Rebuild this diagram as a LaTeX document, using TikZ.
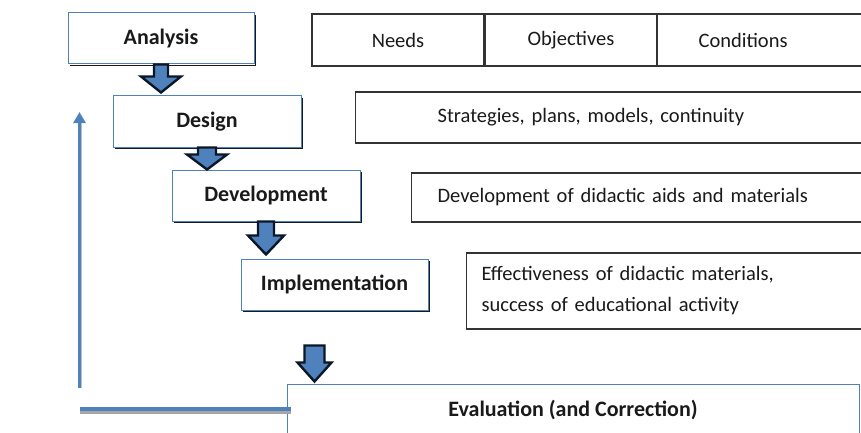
\documentclass[tikz,border=0pt]{standalone}
\usepackage{fontspec}
\setmainfont{Carlito}
\usetikzlibrary{calc,arrows.meta}
\definecolor{wblue}{HTML}{4F81BD}
\definecolor{wtext}{HTML}{1A1A1A}
\definecolor{rline}{HTML}{333333}
\definecolor{navy}{HTML}{0B1626}
\newcommand\blockarr[5]{%
  \draw[barrow] ($#1+(-#4,0)$) -- ++(2*#4,0) -- ++(0,#2) -- ++(#5-#4,0)
     -- ++(-#5,#3) -- ++(-#5,-#3) -- ++(#5-#4,0) -- cycle;}
\newcommand\boxshadow[1]{%
  \draw[shadowline] ($(#1.north east)+(1.3,2.5)$) |- ($(#1.south west)+(2.5,1.3)$);}
\tikzset{
  x=1pt, y=-1pt,
  stagebox/.style={draw=wblue, line width=1pt, fill=white, text=wtext,
    font=\fontsize{22}{26}\selectfont\bfseries, minimum height=51, inner sep=0pt},
  shadowline/.style={draw=black!90, line width=1.3pt},
  cellbox/.style={draw=rline, line width=1.2pt, fill=white, text=wtext,
    font=\fontsize{20.5}{24}\selectfont, minimum height=52, inner sep=0pt},
  infobox/.style={draw=rline, line width=1.2pt, fill=white, text=wtext,
    font=\fontsize{20.5}{31}\selectfont, anchor=west, align=left, inner ysep=0pt},
  barrow/.style={fill=wblue, draw=navy, line width=2.4pt, line join=miter},
  feedback/.style={draw=wblue, line width=2.5pt},
}
\begin{document}
\begin{tikzpicture}
\useasboundingbox (0,0) rectangle (861,433);
% stage boxes
\node[stagebox, minimum width=186] (analysis) at (161,38.5) {Analysis};
\node[stagebox, minimum width=188] (design) at (207,121.5) {Design};
\node[stagebox, minimum width=188] (development) at (266,195.5) {Development};
\node[stagebox, minimum width=187] (implementation) at (334.5,284.5) {Implementation};
\boxshadow{analysis}
\boxshadow{design}
\boxshadow{development}
\boxshadow{implementation}
\node[draw=wblue, line width=1pt, fill=white, text=wtext, inner sep=0pt,
      font=\fontsize{22}{26}\selectfont\bfseries,
      minimum width=572, minimum height=52] (evaluation) at (573,410) {Evaluation (and Correction)};
% right side boxes
\node[cellbox, minimum width=172] (needs) at (398,40) {Needs};
\node[cellbox, minimum width=172] (objectives) at (571,40) {Objectives};
\node[infobox, minimum height=52, inner xsep=41pt, text width=141pt] (conditions) at (657,40) {Conditions};
\node[infobox, minimum height=51, inner xsep=82pt, text width=361pt] (strategies) at (355,117.5) {Strategies, plans, models, continuity};
\node[infobox, minimum height=49, inner xsep=26pt, text width=417pt] (didactic) at (411,197.5) {Development of didactic aids and materials};
\node[infobox, minimum height=76, inner xsep=15pt, text width=384pt] (effect) at (466,291) {Effectiveness of didactic materials,\\success of educational activity};
% block arrows
\blockarr{(analysis.south)}{12}{16}{7}{20}
\blockarr{(design.south)}{7}{15}{9}{20}
\blockarr{(development.south)}{14}{19}{8}{18}
\blockarr{($(evaluation.north west)+(28,-38)$)}{17}{19}{10}{17}
% feedback connector
\coordinate (fbcorner) at ($(evaluation.west)+(-207,-1)$);
\coordinate (fbstart) at ($(evaluation.west)+(4,-1)$);
\coordinate (fbvbottom) at ($(fbcorner)+(0,-21)$);
\coordinate (fbtip) at ($(fbcorner)+(0,-297)$);
\draw[draw=black!35, line width=4pt] ($(fbstart)+(0,2.5)$) -- ($(fbcorner)+(0,2.5)$);
\draw[feedback, line width=4pt] (fbstart) -- (fbcorner);
\draw[draw=black!25, line width=1.5pt] ($(fbvbottom)+(1.5,0)$) -- ($(fbtip)+(1.5,10)$);
\draw[feedback, -{Triangle[width=12pt,length=11pt]}] (fbvbottom) -- (fbtip);
\end{tikzpicture}
\end{document}
